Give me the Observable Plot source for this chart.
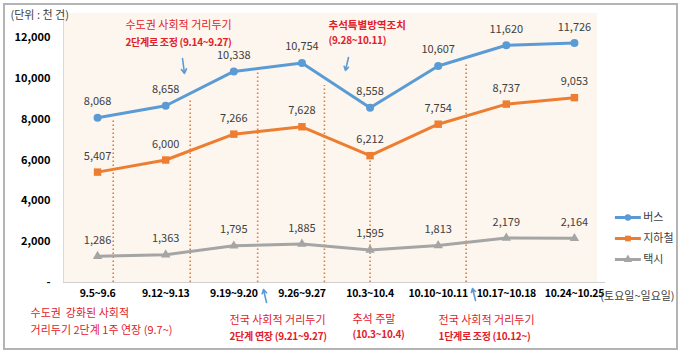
<!DOCTYPE html>
<html><head><meta charset="utf-8">
<script src="https://cdn.jsdelivr.net/npm/d3@7"></script>
<script src="https://cdn.jsdelivr.net/npm/@observablehq/plot@0.6"></script>
<style>
body{margin:0;background:#fff;}
#wrap{position:relative;width:680px;height:353px;}
#border{position:absolute;left:3px;top:3px;width:671px;height:343px;border:2px solid #b4b4b4;pointer-events:none;}
.tight text{letter-spacing:-0.3px;}
</style></head>
<body><div id="wrap"><div id="border"></div></div>
<script>
// ---- data ----
const categories = ["9.5~9.6","9.12~9.13","9.19~9.20","9.26~9.27","10.3~10.4","10.10~10.11","10.17~10.18","10.24~10.25"];
const bus    = [8068, 8658, 10338, 10754, 8558, 10607, 11620, 11726];
const subway = [5407, 6000, 7266, 7628, 6212, 7754, 8737, 9053];
const taxi   = [1286, 1363, 1795, 1885, 1595, 1813, 2179, 2164];
const seriesNames = ["버스", "지하철", "택시"];
const yTicks = [0, 2000, 4000, 6000, 8000, 10000, 12000];
const unitLabel = "(단위 : 천 건)";
const dayLabel = "(토요일~일요일)";
// policy-change guide lines (position in category units, top value)
const guides = [
  {x: 0.23, top: 8000}, {x: 1.36, top: 9000}, {x: 2.35, top: 10400},
  {x: 3.33, top: 9650}, {x: 4.0, top: 6000}, {x: 5.41, top: 10700}
];
const notes = [
  {x: 0.41, y: 12588, t: "수도권 사회적 거리두기", b: false},
  {x: 0.41, y: 11755, t: "2단계로 조정 (9.14~9.27)", b: true},
  {x: 3.39, y: 11853, t: "(9.28~10.11)", b: true},
  {x: -0.984, y: -1518, t: "수도권  강화된 사회적", b: false},
  {x: -0.984, y: -2351, t: "거리두기 2단계 1주 연장 (9.7~)", b: false},
  {x: 1.937, y: -1861, t: "전국 사회적 거리두기", b: false},
  {x: 1.937, y: -2645, t: "2단계 연장 (9.21~9.27)", b: true},
  {x: 3.742, y: -1812, t: "추석 주말", b: false},
  {x: 3.742, y: -2547, t: "(10.3~10.4)", b: true},
  {x: 5.005, y: -1861, t: "전국 사회적 거리두기", b: false},
  {x: 5.005, y: -2645, t: "1단계로 조정 (10.12~)", b: true}
];
const headline = [{x: 3.39, y: 12588, t: "추석특별방역조치"}];
const arrows = [
  {x1: 1.247, y1: 10971, x2: 1.276, y2: 10237},
  {x1: 3.683, y1: 11020, x2: 3.639, y2: 10384},
  {x1: 2.48, y1: -980, x2: 2.436, y2: -343},
  {x1: 5.548, y1: -882, x2: 5.504, y2: -294}
];
const legendY = [3184, 2155, 1127];

// ---- build ----
const colors = ["#5b9bd5", "#ed7d31", "#a5a5a5"];
const seriesVals = [bus, subway, taxi];
const rows = [];
seriesNames.forEach((s, k) => seriesVals[k].forEach((v, i) => rows.push({i, v, s})));
const legend = seriesNames.map((s, k) => ({s, y: legendY[k]}));
const fmt = d3.format(",");
const FONT = "'Noto Sans CJK KR', 'Noto Sans', sans-serif";

const chart = Plot.plot({
  width: 680, height: 353,
  marginLeft: 63, marginRight: 72, marginTop: 37, marginBottom: 71,
  style: {fontFamily: FONT, background: "transparent", overflow: "visible"},
  x: {domain: [-0.5, 7.5]},
  y: {domain: [0, 12000]},
  color: {domain: seriesNames, range: colors},
  symbol: {domain: seriesNames, range: ["circle", "square", "triangle"]},
  marks: [
    Plot.rect([0], {x1: -0.5, x2: 7.34, y1: 0, y2: 13176, fill: "#fdf6ee"}),
    Plot.ruleX([-0.5], {y1: 0, y2: 13176, stroke: "#d9d9d9"}),
    Plot.ruleY([0], {x1: -0.5, x2: 7.46, stroke: "#d0d0d0"}),
    Plot.ruleX(guides, {x: "x", y1: 0, y2: "top", stroke: "#e07b39", strokeWidth: 1.6, strokeDasharray: "1.5,2.5"}),
    Plot.line(rows, {x: "i", y: "v", z: "s", stroke: "s", strokeWidth: 3}),
    Plot.dot(rows.filter(d => d.s === "버스"), {x: "i", y: "v", fill: "s", symbol: "s", r: 4}),
    Plot.dot(rows.filter(d => d.s === "지하철"), {x: "i", y: "v", fill: "s", symbol: "s", r: 4.2}),
    Plot.dot(rows.filter(d => d.s === "택시"), {x: "i", y: "v", fill: "s", symbol: "s", r: 3.5}),
    Plot.text(rows, {x: "i", y: "v", text: d => fmt(d.v), dy: -16, fill: "#404040", fontSize: 11}),
    Plot.axisY({ticks: yTicks, tickSize: 0, tickPadding: 13, fontSize: 11, fontWeight: "bold", fill: "#000",
      tickFormat: d => d === 0 ? "-" : fmt(d)}),
    Plot.axisX({ticks: d3.range(categories.length), tickSize: 0, tickPadding: 7, fontSize: 10.5, fontWeight: "bold", fill: "#000",
      className: "tight", tickFormat: d => categories[d]}),
    Plot.text([unitLabel], {x: -1.278, y: 13078, text: d => d, textAnchor: "start", fontSize: 11, fill: "#404040"}),
    Plot.text([dayLabel], {x: 7.38, y: -686, text: d => d, textAnchor: "start", fontSize: 11, fill: "#404040"}),
    Plot.text(notes.filter(d => !d.b), {x: "x", y: "y", text: "t", textAnchor: "start", fontSize: 11, fill: "#e3202a"}),
    Plot.text(notes.filter(d => d.b), {x: "x", y: "y", text: "t", textAnchor: "start", fontSize: 10, fontWeight: "bold", fill: "#e3202a", className: "tight"}),
    Plot.text(headline, {x: "x", y: "y", text: "t", textAnchor: "start", fontSize: 10.5, fontWeight: "bold", fill: "#e3202a"}),
    Plot.arrow(arrows, {x1: "x1", y1: "y1", x2: "x2", y2: "y2", stroke: "#5b9bd5", strokeWidth: 1.6, headLength: 6}),
    Plot.link(legend, {x1: 7.594, x2: 7.975, y1: "y", y2: "y", stroke: "s", strokeWidth: 3}),
    Plot.dot(legend, {x: 7.785, y: "y", fill: "s", symbol: "s", r: 3.2}),
    Plot.text(legend, {x: 8.01, y: "y", text: "s", textAnchor: "start", fontSize: 11, fill: "#404040"})
  ]
});
document.getElementById("wrap").prepend(chart);
</script></body></html>
